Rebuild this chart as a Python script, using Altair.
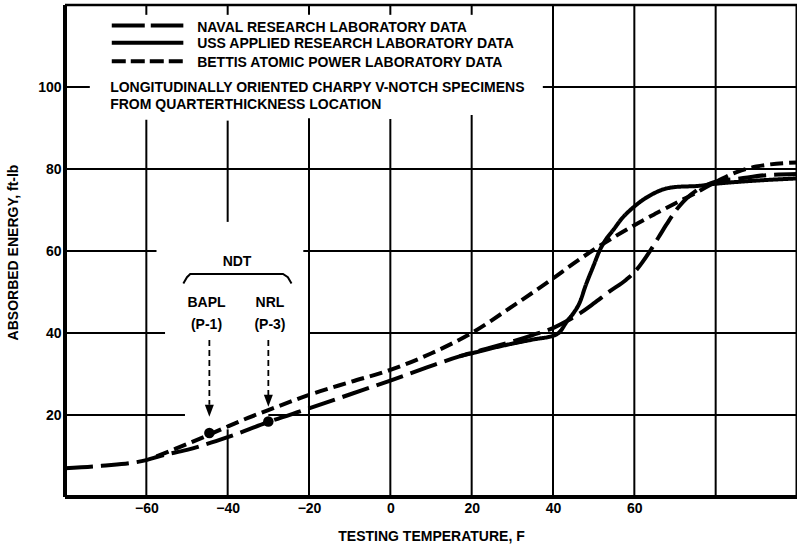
import altair as alt
import pandas as pd

# Naval Research Laboratory curve (long dash)
nrl_temp = [-80, -71, -60, -56.6, -50, -40, -30, -20, -10, 0, 9, 17, 20.6,
            28.6, 35, 40, 43.4, 46.6, 50, 54, 58, 60, 62, 64, 66, 68, 70, 72, 74, 76, 78, 80,
            86, 92.5, 100]
nrl_energy = [7.0, 7.6, 9.0, 10.0, 11.5, 14.6, 18.3, 21.6, 25.0, 28.4, 31.6, 34.3, 35.3,
              37.5, 39.5, 41.2, 42.9, 44.8, 47.2, 50.2, 53.0, 54.8, 57.3, 60.2, 63.4, 66.6, 69.6,
              72.0, 73.8, 75.2, 76.2, 76.9, 77.7, 78.5, 78.8]

# USS Applied Research Laboratory curve (solid)
uss_temp = [17, 20.6, 25, 30, 35, 40.5, 41.7, 43.4, 45, 46.6, 48, 50, 51.5, 53, 54.8,
            57, 59.7, 62, 64.7, 67, 70, 76, 80, 86, 100]
uss_energy = [34.3, 35.2, 36.3, 37.4, 38.4, 39.5, 40.3, 42.8, 44.8, 47.5, 51.5, 56.5, 60.2, 62.8, 65.1,
              68.0, 70.6, 72.4, 74.0, 75.0, 75.6, 75.9, 76.4, 76.9, 77.7]

# Bettis Atomic Power Laboratory curve (short dash)
bapl_temp = [-57.5, -52.5, -45, -40, -35, -30, -20, -10, 0, 10, 20, 30, 40,
             45, 50, 55, 60, 65, 70, 75, 79, 85, 90, 100]
bapl_energy = [9.9, 11.9, 15.0, 17.2, 19.3, 21.2, 24.9, 28.0, 31.0, 35.0, 40.0, 46.5, 53.3,
               56.9, 60.3, 63.4, 66.3, 69.0, 71.6, 74.1, 76.3, 79.2, 80.6, 81.6]

# NDT determinations
ndt_lab = ["BAPL", "NRL"]
ndt_note = ["(P-1)", "(P-3)"]
ndt_temp = [-44.5, -30]
ndt_energy = [15.6, 18.4]
arrow_from = [38.3, 38.3]
arrow_tip = [19.6, 22.0]

x_ticks = [-60, -40, -20, 0, 20, 40, 60]
y_ticks = [20, 40, 60, 80, 100]

legend_names = [
    "NAVAL RESEARCH LABORATORY DATA",
    "USS APPLIED RESEARCH LABORATORY DATA",
    "BETTIS ATOMIC POWER LABORATORY DATA",
]
note_lines = [
    "LONGITUDINALLY ORIENTED CHARPY V-NOTCH SPECIMENS",
    "FROM QUARTERTHICKNESS LOCATION",
]

FONT = "Liberation Sans"
FS = 14

xs = alt.Scale(domain=[-80, 100], nice=False, zero=False)
ys = alt.Scale(domain=[0, 120], nice=False, zero=False)

# grid segments, broken where lettering sits on the sheet
grid = pd.DataFrame(
    [
        # vertical lines: x, x2, y, y2
        (-60, -60, 117.6, 120), (-60, -60, 0, 92),
        (-40, -40, 117.6, 120), (-40, -40, 67.1, 91.8), (-40, -40, 0, 16.5),
        (-20, -20, 117.6, 120), (-20, -20, 0, 92.4),
        (0, 0, 117.6, 120), (0, 0, 0, 92.2),
        (20, 20, 117.6, 120), (20, 20, 0, 93.2),
        (40, 40, 0, 120), (60, 60, 0, 120), (80, 80, 0, 120),
        # horizontal lines
        (-80, -73.9, 100, 100), (37.5, 100, 100, 100),
        (-80, 100, 80, 80),
        (-80, -57.5, 60, 60), (-21.4, 100, 60, 60),
        (-80, -55.4, 40, 40), (-19.8, 100, 40, 40),
        (-80, -50.5, 20, 20), (-30, 100, 20, 20),
    ],
    columns=["x", "x2", "y", "y2"],
)

grid_layer = alt.Chart(grid).mark_rule(color="black", strokeWidth=2).encode(
    x=alt.X("x:Q", scale=xs), x2="x2:Q", y=alt.Y("y:Q", scale=ys), y2="y2:Q"
)

frame = pd.DataFrame(
    [(-80, -80, 0, 120, 4), (-80, 100, 0, 0, 4), (-80, 100, 120, 120, 2.5), (100, 100, 0, 120, 3)],
    columns=["x", "x2", "y", "y2", "w"],
)
frame_layer = alt.Chart(frame).mark_rule(color="black").encode(
    x=alt.X("x:Q", scale=xs,
            axis=alt.Axis(values=x_ticks, title="TESTING TEMPERATURE, F", grid=False, ticks=False,
                          domain=False, labelPadding=4, titleY=39, titleBaseline="middle")),
    x2="x2:Q",
    y=alt.Y("y:Q", scale=ys,
            axis=alt.Axis(values=y_ticks, title="ABSORBED ENERGY, ft-lb", grid=False, ticks=False,
                          domain=False, labelPadding=4, titleX=-52, titleY=247,
                          titleAngle=-90, titleAlign="center", titleBaseline="middle")),
    y2="y2:Q",
    strokeWidth=alt.StrokeWidth("w:Q", scale=None, legend=None),
)

curve_specs = [
    (nrl_temp, nrl_energy, [28, 8]),
    (uss_temp, uss_energy, [1, 0]),
    (bapl_temp, bapl_energy, [13, 6]),
]
curve_layers = []
for t, e, dash in curve_specs:
    df = pd.DataFrame({"t": t, "e": e})
    curve_layers.append(
        alt.Chart(df).mark_line(color="black", strokeWidth=4, strokeDash=dash,
                                interpolate="monotone", strokeCap="butt").encode(
            x=alt.X("t:Q", scale=xs), y=alt.Y("e:Q", scale=ys)
        )
    )

# legend keys drawn on the sheet
key_y = [115.0, 110.8, 106.3]
key_dash = [[33, 6], [1, 0], [14, 5]]
key_layers = []
for ky, kd in zip(key_y, key_dash):
    kdf = pd.DataFrame({"t": [-68.5, -50.9], "e": [ky, ky]})
    key_layers.append(
        alt.Chart(kdf).mark_line(color="black", strokeWidth=4, strokeDash=kd, strokeCap="butt").encode(
            x=alt.X("t:Q", scale=xs), y=alt.Y("e:Q", scale=ys)
        )
    )

labels = pd.DataFrame(
    {
        "txt": legend_names + note_lines,
        "x": [-47.5, -47.5, -47.5, -68.9, -68.9],
        "y": [114.5, 110.4, 105.9, 99.7, 95.6],
    }
)
label_layer = alt.Chart(labels).mark_text(
    align="left", baseline="middle", font=FONT, fontWeight="bold", fontSize=FS, color="black"
).encode(x=alt.X("x:Q", scale=xs), y=alt.Y("y:Q", scale=ys), text="txt:N")

ndt_text = pd.DataFrame(
    {
        "txt": ["NDT"] + ndt_lab + ndt_note,
        "x": [-37.7, ndt_temp[0] - 0.7, ndt_temp[1] + 0.4, ndt_temp[0] - 0.7, ndt_temp[1] + 0.4],
        "y": [57.4, 47.2, 47.2, 42.0, 42.0],
    }
)
ndt_text_layer = alt.Chart(ndt_text).mark_text(
    align="center", baseline="middle", font=FONT, fontWeight="bold", fontSize=FS, color="black"
).encode(x=alt.X("x:Q", scale=xs), y=alt.Y("y:Q", scale=ys), text="txt:N")

bracket = pd.DataFrame(
    {"t": [-50.9, -50.0, -49.2, -26.4, -25.2, -24.3], "e": [52.1, 53.6, 54.4, 54.4, 53.6, 52.1], "o": range(6)}
)
bracket_layer = alt.Chart(bracket).mark_line(color="black", strokeWidth=2).encode(
    x=alt.X("t:Q", scale=xs), y=alt.Y("e:Q", scale=ys), order="o:O"
)

arrows = pd.DataFrame(
    {"t": ndt_temp, "top": arrow_from, "tip": arrow_tip, "base": [v + 2.9 for v in arrow_tip]}
)
shaft_layer = alt.Chart(arrows).mark_rule(color="black", strokeWidth=1.8, strokeDash=[6, 4]).encode(
    x=alt.X("t:Q", scale=xs), y=alt.Y("top:Q", scale=ys), y2="base:Q"
)
head_layer = alt.Chart(arrows).mark_point(
    shape="M-0.75,-2L0.75,-2L0,0Z", size=144, filled=True, color="black", opacity=1, strokeWidth=0
).encode(x=alt.X("t:Q", scale=xs), y=alt.Y("tip:Q", scale=ys))

dots = pd.DataFrame({"t": ndt_temp, "e": ndt_energy})
dot_layer = alt.Chart(dots).mark_circle(size=110, color="black", opacity=1).encode(
    x=alt.X("t:Q", scale=xs), y=alt.Y("e:Q", scale=ys)
)

chart = (
    alt.layer(frame_layer, grid_layer, *curve_layers, *key_layers, label_layer, ndt_text_layer,
              bracket_layer, shaft_layer, head_layer, dot_layer)
    .properties(
        width=732, height=492,
        autosize=alt.AutoSizeParams(type="none"),
        padding={"left": 65, "top": 5, "right": 0, "bottom": 50},
        background="white",
    )
    .configure_view(stroke=None)
    .configure_axis(
        labelFont=FONT, labelFontWeight="bold", labelFontSize=FS, labelColor="black",
        titleFont=FONT, titleFontWeight="bold", titleFontSize=FS, titleColor="black",
    )
)

chart.save("out.html", embed_options={"renderer": "svg", "actions": False})
